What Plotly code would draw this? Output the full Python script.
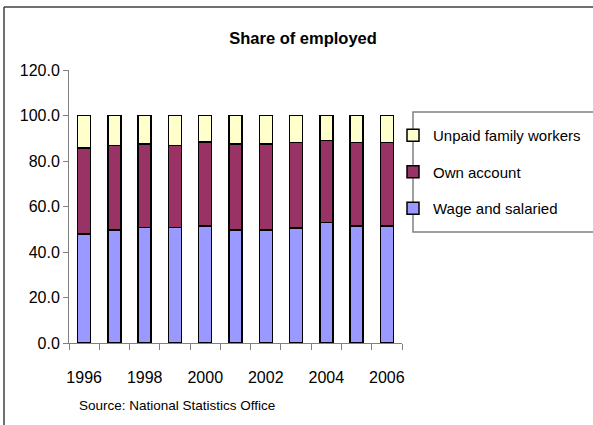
import plotly.graph_objects as go

years = ["1996", "1997", "1998", "1999", "2000", "2001",
         "2002", "2003", "2004", "2005", "2006"]
tick_labels = ["1996", "", "1998", "", "2000", "", "2002", "", "2004", "", "2006"]

wage = [47.9, 49.7, 50.7, 50.7, 51.5, 49.7, 49.7, 50.5, 52.9, 51.5, 51.5]
own = [37.9, 37.1, 36.8, 36.1, 36.8, 37.7, 37.7, 37.6, 36.1, 36.6, 36.6]
unpaid = [14.2, 13.2, 12.5, 13.2, 11.7, 12.6, 12.6, 11.9, 11.0, 11.9, 11.9]

FONT = "Liberation Sans, Arial, sans-serif"
line = dict(color="black", width=1.5)

# plot area in pixels: x 69..402, y 70..343
L, R, T, B = 69, 402, 70, 343
W, H = R - L, B - T


def px(x):
    return (x - L) / W


def py(y):
    return (B - y) / H


fig = go.Figure()
fig.add_trace(go.Bar(x=years, y=wage, name="Wage and salaried",
                     marker=dict(color="#9999FF", line=line),
                     legendgroup="a", legendrank=3))
fig.add_trace(go.Bar(x=years, y=own, name="Own account",
                     marker=dict(color="#993366", line=line),
                     legendgroup="b", legendrank=2))
fig.add_trace(go.Bar(x=years, y=unpaid, name="Unpaid family workers",
                     marker=dict(color="#FFFFCC", line=line),
                     legendgroup="c", legendrank=1))

fig.update_layout(
    width=593, height=425,
    barmode="stack", bargap=0.57,
    margin=dict(l=L, r=593 - R, t=T, b=425 - B, autoexpand=False),
    plot_bgcolor="white", paper_bgcolor="white",
    font=dict(family=FONT, size=16, color="black"),
    title=dict(text="<b>Share of employed</b>", x=0.511, xref="container",
               y=1 - 38 / 425, yref="container", yanchor="middle",
               xanchor="center", font=dict(size=16.5)),
    xaxis=dict(type="category", tickmode="array", tickvals=years,
               ticktext=tick_labels, tickson="boundaries", ticks="outside",
               ticklen=6, tickcolor="#808080", showline=True,
               linecolor="#808080", linewidth=1, showgrid=False,
               tickangle=0, automargin=False, ticklabelstandoff=20),
    yaxis=dict(range=[0, 120], dtick=20, tickformat=".1f", ticks="outside",
               ticklen=5, tickcolor="#808080", showline=True,
               linecolor="#808080", linewidth=1, showgrid=False,
               zeroline=False, automargin=False),
    legend=dict(x=px(393), y=py(119), xanchor="left", yanchor="top",
                traceorder="grouped", tracegroupgap=14,
                borderwidth=0, bgcolor="rgba(0,0,0,0)",
                font=dict(size=15)),
    showlegend=True,
)

# caption below the axis
fig.add_annotation(text="Source: National Statistics Office", xref="paper",
                   yref="paper", x=px(77), y=py(405),
                   xanchor="left", yanchor="middle", showarrow=False,
                   font=dict(size=13.5))

# legend box
fig.add_shape(type="rect", xref="paper", yref="paper",
              x0=px(413), x1=px(610), y0=py(112), y1=py(232),
              line=dict(color="#808080", width=1.5), layer="below")

# chart frame (top and left edges)
fig.add_shape(type="line", xref="paper", yref="paper",
              x0=px(4), x1=px(4), y0=py(430), y1=py(7),
              line=dict(color="#404040", width=1.5))
fig.add_shape(type="line", xref="paper", yref="paper",
              x0=px(4), x1=px(600), y0=py(7), y1=py(7),
              line=dict(color="#404040", width=1.5))

fig.write_html("out.html", config={"displayModeBar": False},
               post_script="document.body.style.margin='0';")
